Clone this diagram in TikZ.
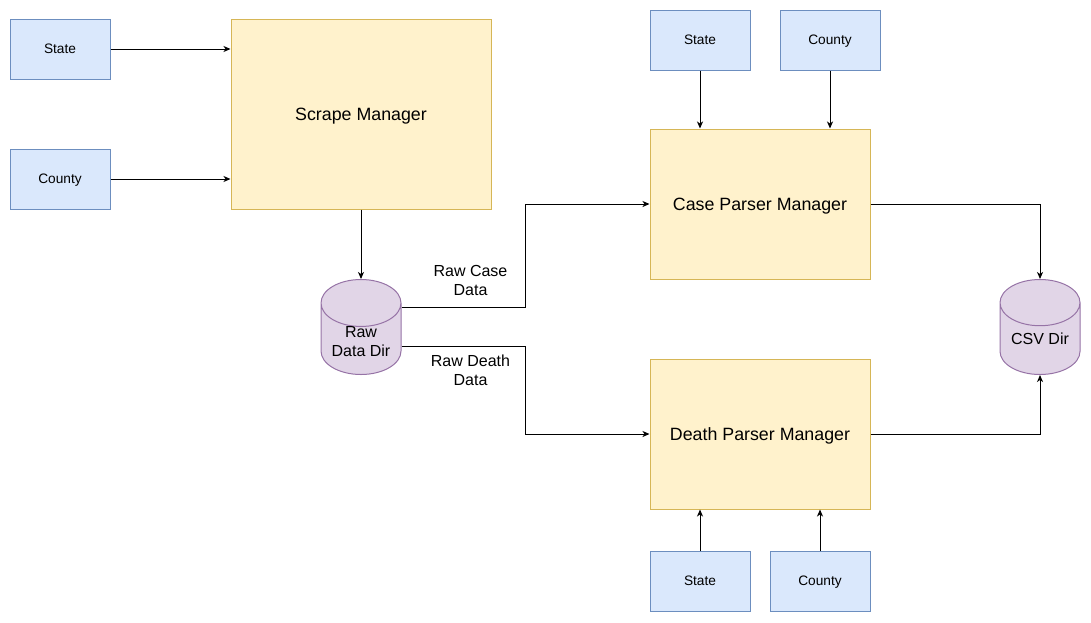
\documentclass[tikz,border=0pt]{standalone}
\usepackage{fontspec}
\setmainfont{Liberation Sans}
\usetikzlibrary{arrows.meta,shapes.geometric,calc}
\definecolor{inputfill}{HTML}{DAE8FC}
\definecolor{inputdraw}{HTML}{6C8EBF}
\definecolor{mgrfill}{HTML}{FFF2CC}
\definecolor{mgrdraw}{HTML}{D6B656}
\definecolor{storefill}{HTML}{E1D5E7}
\definecolor{storedraw}{HTML}{9673A6}
\tikzset{
  input/.style={draw=inputdraw, fill=inputfill, line width=1pt, inner sep=0pt, text depth=0pt,
    minimum width=100pt, minimum height=60pt, font=\fontsize{13.7}{16}\selectfont},
  manager/.style={draw=mgrdraw, fill=mgrfill, line width=1pt, inner sep=0pt, text depth=0pt,
    font=\fontsize{17.8}{22}\selectfont},
  store/.style={cylinder, shape border rotate=90, aspect=0.8, draw=storedraw, fill=storefill,
    line width=1pt, inner sep=0pt, text depth=0pt, minimum width=80pt, minimum height=95pt,
    anchor=north, font=\fontsize{16}{19}\selectfont},
  flow/.style={-{Stealth[length=7pt,width=6pt,inset=2pt]}, line width=1pt},
  edgetext/.style={align=center, font=\fontsize{16}{19}\selectfont, inner sep=2pt}
}
\begin{document}
\begin{tikzpicture}[x=1pt,y=-1pt]
        \useasboundingbox (0,0) rectangle (1091,622);
        % Scraping
            \node[input] (state1) at (60,49) {State};
            \node[input] (county1) at (60,179) {County};
            \node[manager, minimum width=260pt, minimum height=190pt] (scrape) at (361,114) {Scrape Manager};
            \node[store] (raw) at (361,279) {\raisebox{-9pt}[0pt][0pt]{\begin{tabular}{@{}c@{}}Raw\\Data Dir\end{tabular}}};
        % Parsing
            \node[manager, minimum width=220pt, minimum height=150pt] (case) at (760,204) {Case Parser Manager};
            \node[manager, minimum width=220pt, minimum height=150pt] (death) at (760,434) {Death Parser Manager};
            \node[input] (state2) at (700,40) {State};
            \node[input] (county2) at (830,40) {County};
            \node[input] (state3) at (700,581) {State};
            \node[input] (county3) at (820,581) {County};
            \node[store] (csv) at (1040,279) {CSV Dir};
        % Flows
            \draw[flow] (state1.east) -- (state1.east -| scrape.west);
            \draw[flow] (county1.east) -- (county1.east -| scrape.west);
            \draw[flow] (scrape.south) -- (raw.north);
            \draw[flow] ($(raw.north -| raw.east)+(0,28)$) -- ++(124,0) node[edgetext, midway, above, xshift=7pt, yshift=9pt] (rawcase) {Raw Case\\Data} |- (case.west);
            \draw[flow] ($(raw.north -| raw.east)+(0,67)$) -- ++(124,0) node[edgetext, midway, below, xshift=7pt, yshift=-6pt] (rawdeath) {Raw Death\\Data} |- (death.west);
            \draw[flow] (state2.south) -- (state2.south |- case.north);
            \draw[flow] (county2.south) -- (county2.south |- case.north);
            \draw[flow] (state3.north) -- (state3.north |- death.south);
            \draw[flow] (county3.north) -- (county3.north |- death.south);
            \draw[flow] (case.east) -| (csv.north);
            \draw[flow] (death.east) -| (csv.south);
        \end{tikzpicture}
\end{document}
